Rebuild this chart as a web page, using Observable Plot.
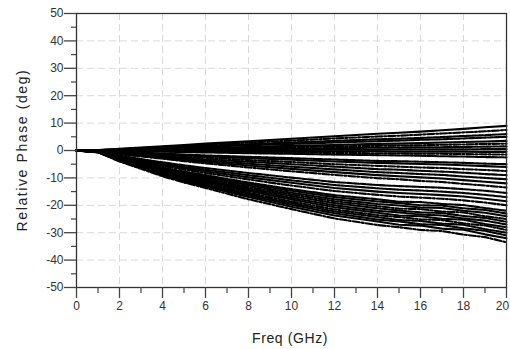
<!DOCTYPE html>
<html><head><meta charset="utf-8">
<script src="https://cdn.jsdelivr.net/npm/d3@7"></script>
<script src="https://cdn.jsdelivr.net/npm/@observablehq/plot@0.6"></script>
<style>
html,body{margin:0;padding:0;background:#fff;overflow:hidden}
#chart{position:relative;width:510px;height:349px}
#chart svg{display:block}
</style>
</head><body><div id="chart"></div>
<script>
// Frequency sample points (GHz)
const freq = [0,1,2,3,4,5,6,8,10,12,14,15,16,17,18,19,20];
// Relative phase (deg) of each state
const phase = [
  [0,0.2,0.6,1.1,1.5,2.0,2.5,3.4,4.3,5.2,6.1,6.5,6.9,7.4,7.9,8.5,9.0],
  [0,0.1,0.5,0.9,1.3,1.7,2.1,2.9,3.6,4.4,5.1,5.4,5.8,6.2,6.6,7.0,7.5],
  [0,0.1,0.4,0.7,1.0,1.3,1.7,2.3,2.9,3.5,4.1,4.3,4.6,4.9,5.3,5.6,6.0],
  [0,0.1,0.3,0.6,0.9,1.1,1.4,1.9,2.4,2.9,3.4,3.6,3.9,4.1,4.4,4.7,5.0],
  [0,0.1,0.2,0.4,0.6,0.8,1.0,1.3,1.7,2.0,2.4,2.5,2.7,2.9,3.1,3.3,3.5],
  [0,0,0.2,0.3,0.4,0.6,0.7,1.0,1.2,1.5,1.7,1.8,1.9,2.1,2.2,2.4,2.5],
  [0,0,0.1,0.2,0.3,0.3,0.4,0.6,0.7,0.9,1.0,1.1,1.2,1.2,1.3,1.4,1.5],
  [0,0,0,0.1,0.1,0.1,0.1,0.2,0.2,0.3,0.3,0.4,0.4,0.4,0.4,0.5,0.5],
  [0,0,0,-0.1,-0.1,-0.1,-0.1,-0.2,-0.2,-0.3,-0.3,-0.4,-0.4,-0.4,-0.4,-0.5,-0.5],
  [0,0,-0.1,-0.2,-0.3,-0.3,-0.4,-0.6,-0.7,-0.9,-1.0,-1.1,-1.2,-1.2,-1.3,-1.4,-1.5],
  [0,0,-0.2,-0.3,-0.4,-0.6,-0.7,-1.0,-1.2,-1.5,-1.7,-1.8,-1.9,-2.1,-2.2,-2.4,-2.5],
  [0,-0.1,-0.5,-0.8,-1.1,-1.5,-1.8,-2.3,-2.8,-3.3,-3.8,-3.9,-4.1,-4.3,-4.5,-4.8,-5.0],
  [0,-0.1,-0.6,-1.0,-1.3,-1.7,-2.1,-2.8,-3.4,-4.0,-4.5,-4.7,-4.9,-5.1,-5.4,-5.7,-6.0],
  [0,-0.2,-0.8,-1.2,-1.7,-2.2,-2.6,-3.5,-4.2,-5.0,-5.6,-5.9,-6.2,-6.4,-6.8,-7.1,-7.5],
  [0,-0.2,-0.9,-1.4,-2.0,-2.6,-3.2,-4.1,-5.0,-5.9,-6.8,-7.0,-7.4,-7.7,-8.1,-8.6,-9.0],
  [0,-0.2,-1.1,-1.7,-2.3,-3.0,-3.7,-4.8,-5.9,-6.9,-7.9,-8.2,-8.6,-8.9,-9.5,-10.0,-10.5],
  [0,-0.2,-1.2,-1.9,-2.6,-3.5,-4.2,-5.5,-6.7,-7.9,-9.0,-9.4,-9.8,-10.2,-10.8,-11.4,-12.0],
  [0,-0.3,-1.4,-2.2,-3.0,-3.9,-4.7,-6.2,-7.6,-8.9,-10.1,-10.5,-11.1,-11.5,-12.2,-12.8,-13.5],
  [0,-0.3,-1.9,-3.1,-4.3,-5.4,-6.4,-8.2,-9.9,-11.5,-12.6,-13.0,-13.3,-13.6,-14.1,-14.7,-15.5],
  [0,-0.3,-2.0,-3.4,-4.8,-6.0,-7.0,-9.0,-10.9,-12.6,-13.8,-14.3,-14.6,-15.0,-15.5,-16.2,-17.0],
  [0,-0.4,-2.2,-3.7,-5.2,-6.5,-7.6,-9.8,-11.8,-13.7,-15.0,-15.5,-15.9,-16.3,-16.8,-17.6,-18.5],
  [0,-0.4,-2.4,-4.0,-5.6,-7.0,-8.2,-10.6,-12.8,-14.8,-16.2,-16.8,-17.2,-17.6,-18.2,-19.0,-20.0],
  [0,-0.4,-2.6,-4.4,-6.2,-7.7,-9.0,-11.7,-14.1,-16.3,-17.8,-18.7,-18.8,-19.5,-19.9,-21.0,-22.0],
  [0,-0.5,-2.8,-4.6,-6.4,-8.1,-9.4,-12.2,-14.7,-17.0,-18.6,-19.2,-20.0,-20.1,-21.1,-21.7,-23.0],
  [0,-0.5,-2.9,-4.8,-6.7,-8.4,-9.8,-12.7,-15.4,-17.8,-19.5,-20.1,-20.8,-21.0,-22.0,-22.7,-24.0],
  [0,-0.5,-3.0,-5.0,-7.0,-8.8,-10.3,-13.3,-16.0,-18.5,-20.3,-21.2,-21.4,-22.3,-22.6,-24.0,-25.0],
  [0,-0.5,-3.1,-5.2,-7.3,-9.1,-10.7,-13.8,-16.6,-19.2,-21.1,-21.9,-22.6,-22.8,-23.9,-24.6,-26.0],
  [0,-0.5,-3.2,-5.4,-7.6,-9.5,-11.1,-14.3,-17.3,-20.0,-22.0,-22.6,-23.4,-23.7,-24.8,-25.6,-27.0],
  [0,-0.6,-3.4,-5.6,-7.8,-9.8,-11.5,-14.8,-17.9,-20.7,-22.7,-23.7,-24.0,-24.9,-25.3,-26.8,-28.0],
  [0,-0.6,-3.5,-5.8,-8.1,-10.2,-11.9,-15.4,-18.6,-21.5,-23.6,-24.3,-25.1,-25.4,-26.6,-27.4,-29.0],
  [0,-0.6,-3.6,-6.0,-8.4,-10.5,-12.3,-15.9,-19.2,-22.2,-24.3,-25.4,-25.7,-26.7,-27.1,-28.7,-30.0],
  [0,-0.6,-3.7,-6.2,-8.7,-10.9,-12.7,-16.4,-19.8,-22.9,-25.2,-25.9,-26.9,-27.2,-28.4,-29.3,-31.0],
  [0,-0.6,-3.8,-6.4,-9.0,-11.2,-13.1,-17.0,-20.5,-23.7,-25.9,-27.1,-27.4,-28.5,-28.9,-30.6,-32.0],
  [0,-0.7,-4.0,-6.7,-9.4,-11.7,-13.7,-17.8,-21.4,-24.8,-27.2,-28.0,-29.0,-29.4,-30.7,-31.6,-33.5]
];
const xMajor = [0,2,4,6,8,10,12,14,16,18,20];
const xMinor = [1,3,5,7,9,11,13,15,17,19];
const yMajor = [-50,-40,-30,-20,-10,0,10,20,30,40,50];
const yMinor = [-45,-35,-25,-15,-5,5,15,25,35,45];
const xGrid = [2,4,6,8,10,12,14,16,18];
const yGrid = [-40,-30,-20,-10,0,10,20,30,40];
const dashStyles = ["none", "7,2,2,2", "5,1.5", "2.5,1.2"];
const xTitle = "Freq (GHz)";
const yTitle = "Relative Phase (deg)";

const rows = phase.flatMap((vals, i) => vals.map((v, j) => ({f: freq[j], p: v, s: i})));

const lineMarks = dashStyles.map((dash, k) =>
  Plot.line(rows.filter(d => d.s % dashStyles.length === k), {
    x: "f", y: "p", z: "s", stroke: "#000", strokeWidth: 2.1,
    strokeDasharray: dash === "none" ? undefined : dash
  })
);

const chart = Plot.plot({
  width: 510, height: 349,
  marginLeft: 76, marginRight: 4, marginTop: 13, marginBottom: 62,
  style: {fontFamily: "'Liberation Sans', Arial, sans-serif", background: "#fff", color: "#333"},
  x: {domain: [0, 20]},
  y: {domain: [-50, 50]},
  marks: [
    Plot.ruleX(xGrid, {stroke: "#d9d9d9", strokeDasharray: "7,4", strokeWidth: 1}),
    Plot.ruleY(yGrid, {stroke: "#d9d9d9", strokeDasharray: "7,4", strokeWidth: 1}),
    ...lineMarks,
    Plot.frame({stroke: "#333", strokeWidth: 1.3}),
    Plot.axisX(xMajor, {tickSize: 11, tickPadding: 3, fontSize: 12, tickFormat: d => String(d), label: null, stroke: "#444", strokeWidth: 1.3}),
    Plot.axisX(xMinor, {tickSize: 6, tickFormat: () => "", label: null, stroke: "#444", strokeWidth: 1.2}),
    Plot.axisY(yMajor, {tickSize: 12, tickPadding: 1, fontSize: 12, tickFormat: d => String(d), label: null, stroke: "#444", strokeWidth: 1.3}),
    Plot.axisY(yMinor, {tickSize: 5, tickFormat: () => "", label: null, stroke: "#444", strokeWidth: 1.2})
  ]
});
document.getElementById("chart").appendChild(chart);

const svg = d3.select(chart);
svg.style("overflow", "hidden");
// keep the last x tick label inside the picture
svg.selectAll("text").filter(function() { return this.textContent === "20" && +this.getAttribute("y") !== 0; });
svg.selectAll("g[aria-label='x-axis tick label'] text").each(function() {
  if (this.textContent === "20") d3.select(this).attr("dx", -4);
});
svg.append("text")
  .attr("x", 290).attr("y", 343)
  .attr("text-anchor", "middle")
  .attr("font-size", 14).attr("fill", "#222")
  .attr("letter-spacing", "0.6")
  .attr("font-family", "'Liberation Sans', Arial, sans-serif")
  .text(xTitle);
svg.append("text")
  .attr("transform", "translate(27,150) rotate(-90)")
  .attr("text-anchor", "middle")
  .attr("font-size", 14).attr("fill", "#222")
  .attr("letter-spacing", "1.6")
  .attr("font-family", "'Liberation Sans', Arial, sans-serif")
  .text(yTitle);
</script>
</body></html>
